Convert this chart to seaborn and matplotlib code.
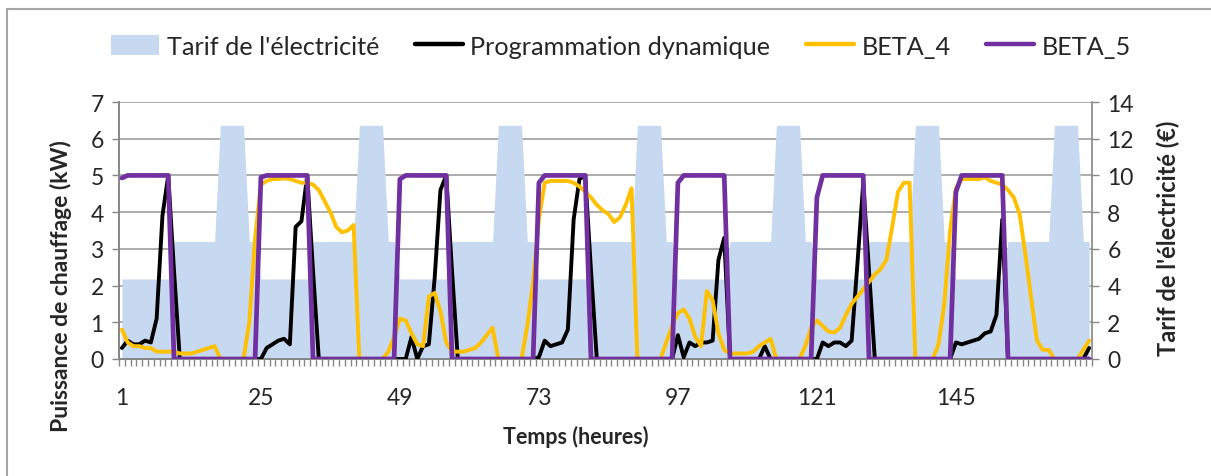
import numpy as np
import pandas as pd
import matplotlib
matplotlib.use("Agg")
import matplotlib.pyplot as plt
from matplotlib.patches import Patch
from matplotlib.lines import Line2D
import seaborn as sns

sns.set_theme(style="white")
plt.rcParams['font.family'] = ['Lato', 'DejaVu Sans']

# ---------------- data ----------------
hours = list(range(1, 169))
x_tick_values = [1, 25, 49, 73, 97, 121, 145]

# electricity tariff (EUR), one row per day
tarif = (
    [4.36]*9 + [6.4]*8 + [12.73]*5 + [6.4]*2 +
    [4.36]*9 + [6.4]*8 + [12.73]*5 + [6.4]*2 +
    [4.36]*9 + [6.4]*8 + [12.73]*5 + [6.4]*2 +
    [4.36]*9 + [6.4]*8 + [12.73]*5 + [6.4]*2 +
    [4.36]*9 + [6.4]*8 + [12.73]*5 + [6.4]*2 +
    [4.36]*9 + [6.4]*8 + [12.73]*5 + [6.4]*2 +
    [4.36]*9 + [6.4]*8 + [12.73]*5 + [6.4]*2
)

prog_dyn = [
    0.3, 0.5, 0.4, 0.4, 0.5, 0.45, 1.1, 3.9, 5.0, 2.4, 0, 0, 0, 0, 0, 0, 0, 0, 0, 0, 0, 0, 0, 0,
    0, 0.3, 0.4, 0.5, 0.55, 0.4, 3.6, 3.75, 5.0, 2.4, 0, 0, 0, 0, 0, 0, 0, 0, 0, 0, 0, 0, 0, 0,
    0, 0, 0.6, 0, 0.35, 0.4, 2.2, 4.6, 5.0, 2.4, 0, 0, 0, 0, 0, 0, 0, 0, 0, 0, 0, 0, 0, 0,
    0.05, 0.5, 0.35, 0.4, 0.45, 0.8, 3.8, 4.9, 5.0, 2.4, 0, 0, 0, 0, 0, 0, 0, 0, 0, 0, 0, 0, 0, 0,
    0.65, 0.05, 0.45, 0.35, 0.45, 0.45, 0.5, 2.7, 3.3, 0, 0, 0, 0, 0, 0, 0.35, 0, 0, 0, 0, 0, 0, 0, 0,
    0, 0.45, 0.35, 0.45, 0.45, 0.35, 0.5, 2.6, 4.8, 2.4, 0, 0, 0, 0, 0, 0, 0, 0, 0, 0, 0, 0, 0, 0,
    0.45, 0.4, 0.45, 0.5, 0.55, 0.7, 0.75, 1.2, 3.8, 0, 0, 0, 0, 0, 0, 0, 0, 0, 0, 0, 0, 0, 0, 0.3,
]

beta_4 = [
    0.8, 0.45, 0.35, 0.35, 0.3, 0.3, 0.2, 0.2, 0.2, 0.2, 0.15, 0.15, 0.15, 0.2, 0.25, 0.3, 0.35, 0, 0, 0, 0, 0, 1.0, 3.3,
    4.75, 4.85, 4.9, 4.9, 4.92, 4.9, 4.85, 4.8, 4.8, 4.75, 4.6, 4.3, 4.0, 3.6, 3.45, 3.5, 3.65, 0, 0, 0, 0, 0, 0.2, 0.6,
    1.1, 1.05, 0.7, 0.4, 0.35, 1.7, 1.8, 1.3, 0.45, 0.2, 0.2, 0.2, 0.25, 0.3, 0.45, 0.65, 0.85, 0, 0, 0, 0, 0, 0.9, 2.1,
    3.8, 4.8, 4.85, 4.85, 4.85, 4.85, 4.8, 4.7, 4.55, 4.4, 4.2, 4.05, 3.95, 3.73, 3.86, 4.2, 4.65, 0, 0, 0, 0, 0, 0.45, 0.9,
    1.25, 1.35, 1.1, 0.6, 0.35, 1.85, 1.6, 0.7, 0.25, 0.15, 0.15, 0.15, 0.15, 0.2, 0.35, 0.45, 0.55, 0, 0, 0, 0, 0, 0.35, 0.85,
    1.05, 0.9, 0.75, 0.72, 0.85, 1.2, 1.5, 1.7, 1.9, 2.1, 2.3, 2.45, 2.7, 3.6, 4.55, 4.8, 4.8, 0, 0, 0, 0, 0.4, 1.5, 3.5,
    4.65, 4.9, 4.9, 4.9, 4.9, 4.95, 4.85, 4.8, 4.75, 4.6, 4.4, 3.95, 2.85, 1.65, 0.5, 0.25, 0.25, 0, 0, 0, 0, 0, 0.25, 0.5,
]

beta_5 = (
    [4.93] + [5.0]*8 + [0]*15 +
    [4.95] + [5.0]*8 + [0]*15 +
    [4.9] + [5.0]*8 + [0]*15 +
    [4.8] + [5.0]*8 + [0]*15 +
    [4.8] + [5.0]*8 + [0]*15 +
    [4.4] + [5.0]*8 + [0]*15 +
    [4.55] + [5.0]*8 + [0]*15
)

df = pd.DataFrame({"heure": hours, "tarif": tarif, "prog": prog_dyn,
                   "beta4": beta_4, "beta5": beta_5})

# ---------------- style ----------------
C_TARIF = "#C6D9F1"
C_PROG = "#000000"
C_B4 = "#FFC000"
C_B5 = "#7030A0"
GRID = "#A6A6A6"
AXC = "#868686"

W, H = 1211, 477
fig = plt.figure(figsize=(W/100, H/100), dpi=100)
L, R, T, B = 119, 1092, 103, 360
ax = fig.add_axes([L/W, 1 - B/H, (R-L)/W, (B-T)/H])
ax2 = ax.twinx()
ax.set_zorder(ax2.get_zorder() + 1)
ax.patch.set_visible(False)

# tariff area (secondary axis, behind)
ax2.fill_between(df["heure"], df["tarif"], 0, color=C_TARIF, lw=0, zorder=2)
ax2.set_ylim(0, 14)
ax2.set_yticks(range(0, 15, 2))
ax2.set_axisbelow(True)
ax2.grid(axis="y", color=GRID, lw=1.3, zorder=0)
ax2.grid(axis="x", visible=False)

# lines (primary axis)
sns.lineplot(data=df, x="heure", y="prog", ax=ax, color=C_PROG, lw=2.8, zorder=3, legend=False)
sns.lineplot(data=df, x="heure", y="beta4", ax=ax, color=C_B4, lw=2.8, zorder=4, legend=False)
sns.lineplot(data=df, x="heure", y="beta5", ax=ax, color=C_B5, lw=3.4, zorder=5, legend=False)

ax.set_xlim(0.5, 168.5)
ax.set_ylim(0, 7)
ax.set_yticks(range(0, 8))
ax.grid(False)

ax.set_xticks(x_tick_values)
ax.set_xticklabels([str(v) for v in x_tick_values])
ax.set_xticks(np.arange(0.5, 169, 1), minor=True)
ax.tick_params(axis="x", which="major", length=0, pad=20, labelsize=16.5)
ax.tick_params(axis="x", which="minor", length=5, width=1, color=AXC, direction="out", bottom=True)
ax.tick_params(axis="y", which="major", length=5, width=1, color=AXC, direction="out", labelsize=16.5, pad=6, left=True)
ax2.tick_params(axis="y", which="major", length=5, width=1, color=AXC, direction="out", labelsize=16.5, pad=6, right=True)

for a in (ax, ax2):
    for s in a.spines.values():
        s.set_color(AXC)
        s.set_linewidth(1.2)
    a.spines["top"].set_visible(False)
ax.spines["right"].set_visible(False)

ax.set_xlabel("Temps (heures)", fontsize=15.5, fontweight="bold")
ax.xaxis.set_label_coords((576 - L) / (R - L), -0.255)
ax.set_ylabel("Puissance de chauffage (kW)", fontsize=16.5, fontweight="bold")
ax.yaxis.set_label_coords((72 - L) / (R - L), (B - 286) / (B - T))
ax2.set_ylabel("Tarif de l'électricité (€)", fontsize=17, fontweight="bold")
ax2.yaxis.set_label_coords((1157 - L) / (R - L), (B - 238) / (B - T))

handles = [
    Patch(facecolor=C_TARIF, edgecolor="none"),
    Line2D([0], [0], color=C_PROG, lw=3.2),
    Line2D([0], [0], color=C_B4, lw=3.2),
    Line2D([0], [0], color=C_B5, lw=3.2),
]
labels = ["Tarif de l'électricité", "Programmation dynamique", "BETA_4", "BETA_5"]
fig.legend(handles, labels, loc="center", bbox_to_anchor=(621/W, 1 - 47/H), ncol=4,
           frameon=False, fontsize=18.2, handlelength=1.9, handletextpad=0.3,
           columnspacing=1.4, handleheight=0.85)

# chart area border (top and left visible)
fig.add_artist(Line2D([7/W, 1.0], [1 - 10/H, 1 - 10/H], transform=fig.transFigure, color="#A6A6A6", lw=1.5))
fig.add_artist(Line2D([7/W, 7/W], [0, 1 - 10/H], transform=fig.transFigure, color="#A6A6A6", lw=1.5))

fig.savefig("out.png", dpi=100)
